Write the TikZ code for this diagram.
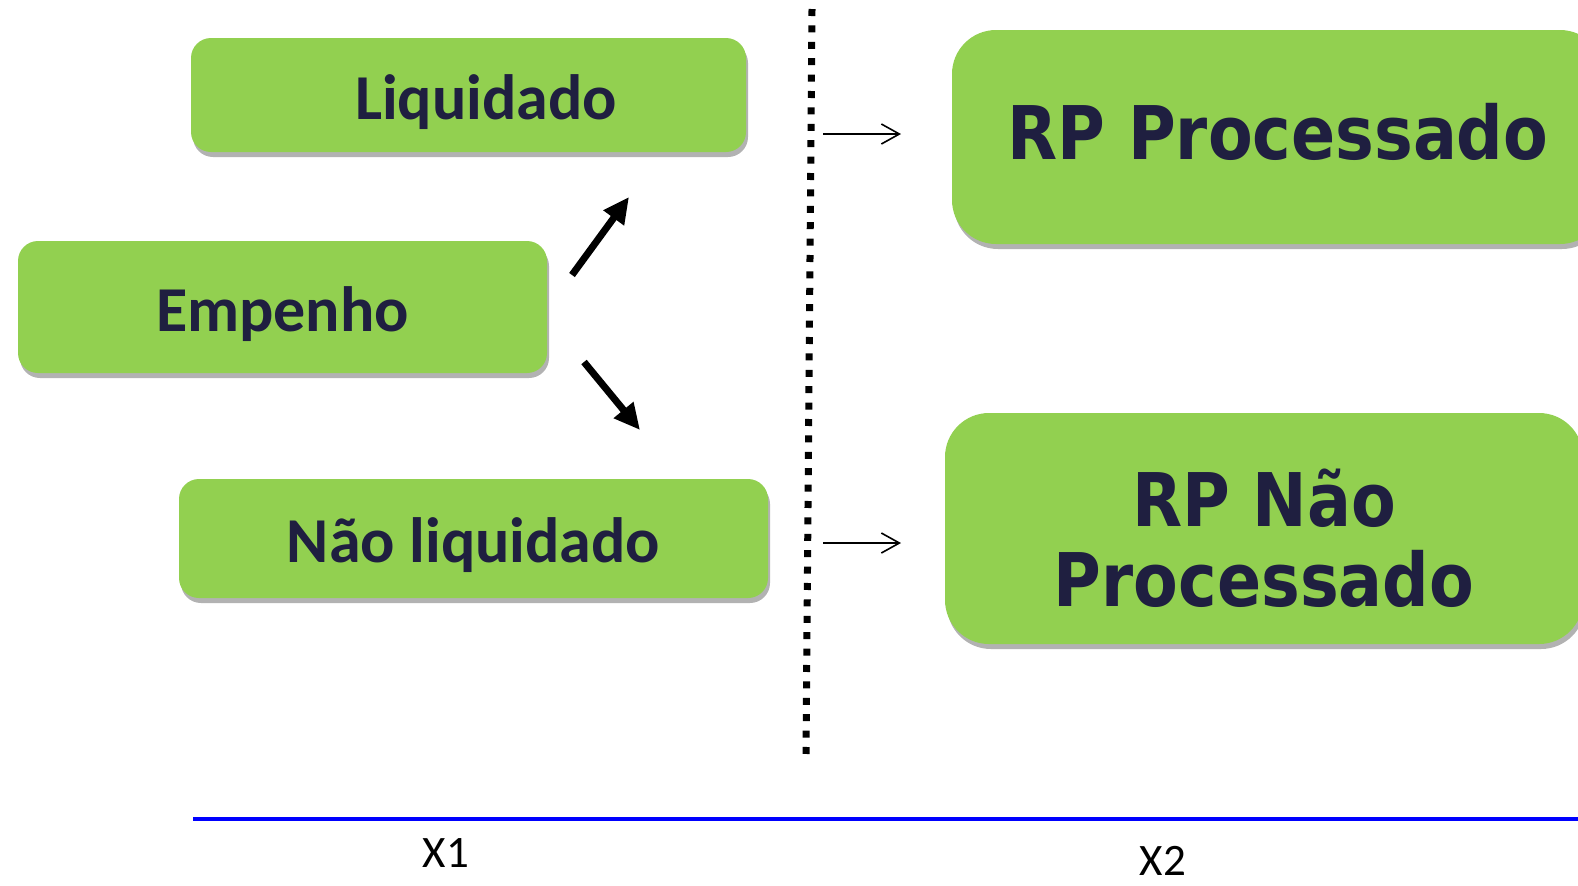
\documentclass[tikz,border=0pt]{standalone}
\usepackage{fontspec}
\setmainfont{Carlito}
\newfontfamily\rpfont[FakeStretch=0.88]{DejaVu Sans}
\usetikzlibrary{arrows.meta,shadows}
\definecolor{boxgreen}{RGB}{146,208,80}
\definecolor{boxtext}{RGB}{31,31,64}
\tikzset{
  greenbox/.style={fill=boxgreen, rounded corners=#1,
    drop shadow={shadow xshift=1pt, shadow yshift=-2.5pt, opacity=.3, fill=black}},
  greenbox/.default=10pt,
  smalltext/.style={text=boxtext, font=\fontsize{32}{38}\selectfont\bfseries, yshift=-3.5pt},
  bigtext/.style={text=boxtext, font=\rpfont\fontsize{37}{40}\selectfont\bfseries, align=center},
  bigarrow/.style={line width=3.5pt, -{Triangle[length=13pt,width=12pt]}},
  thinarrow/.style={line width=0.8pt, -{Straight Barb[length=9pt,width=10pt]}},
  axislabel/.style={font=\fontsize{22.5}{26}\selectfont}
}
\begin{document}
\begin{tikzpicture}[x=0.5pt,y=-0.5pt]
\useasboundingbox (0,0) rectangle (1578,885);
\clip (0,0) rectangle (1578,885);

\fill[greenbox] (191,38) rectangle (746,152) node[pos=.5, smalltext, xshift=8.75pt] (liq) {Liquidado};
\fill[greenbox] (18,241) rectangle (547,373) node[pos=.5, smalltext] (emp) {Empenho};
\fill[greenbox] (179,479) rectangle (768,598) node[pos=.5, smalltext] (naoliq) {Não liquidado};

\fill[greenbox=22pt] (952,30) rectangle (1604,244) node[pos=.5, bigtext, yshift=2.5pt] (rpp) {RP Processado};
\fill[greenbox=22pt] (945,413) rectangle (1583,644) node[pos=.5, bigtext, yshift=-5pt] (rpnp) {RP Não\\Processado};

\coordinate (upS) at (572,275);
\coordinate (upE) at (629,197);
\coordinate (downS) at (584,362);
\coordinate (downE) at (640,430);
\draw[bigarrow] (upS) -- (upE);
\draw[bigarrow] (downS) -- (downE);

\coordinate (cutT) at (812,9);
\coordinate (cutB) at (806,754);
\draw[line width=3.5pt, dash pattern=on 3.5pt off 4.7pt] (cutT) -- (cutB);

\coordinate (topS) at (823,134);
\coordinate (topE) at (901,134);
\coordinate (botS) at (823,543);
\coordinate (botE) at (901,543);
\draw[thinarrow] (topS) -- (topE);
\draw[thinarrow] (botS) -- (botE);

\draw[blue, line width=2pt] (193,819) -- (1578,819);
\node[axislabel] (xa) at (446,853) {X1};
\node[axislabel] (xb) at (1163,861) {X2};

\end{tikzpicture}
\end{document}
